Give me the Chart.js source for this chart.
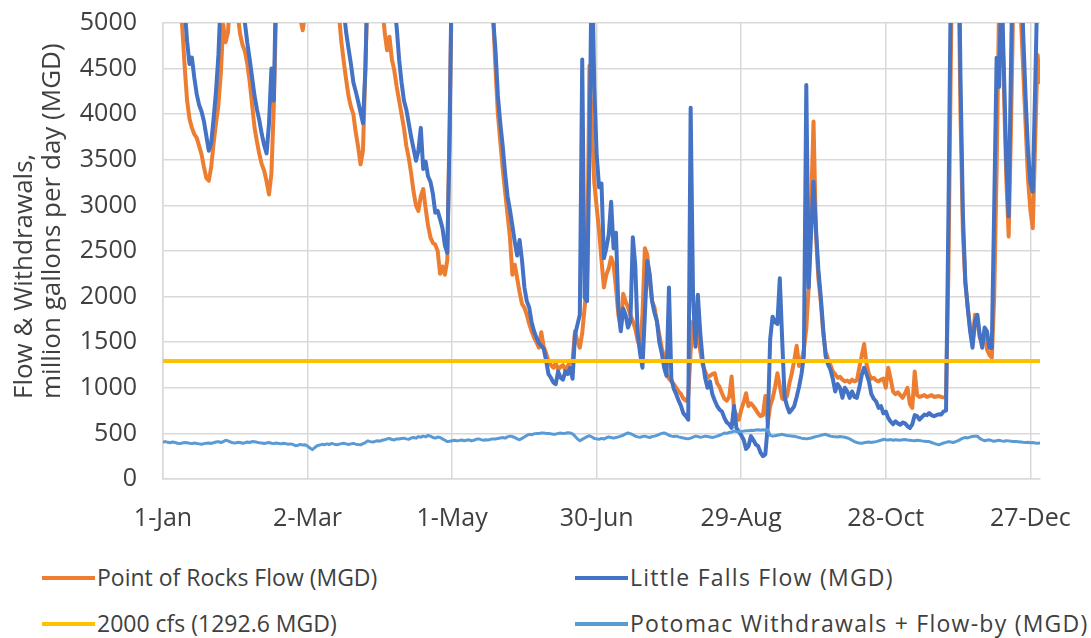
<!DOCTYPE html>
<html><head><meta charset="utf-8">
<script src="https://cdn.jsdelivr.net/npm/chart.js@4"></script>
<style>
html,body{margin:0;padding:0;background:#fff;}
#wrap{position:relative;width:1091px;height:638px;overflow:hidden;}
#c{position:absolute;left:0;top:0;}
.leg{position:absolute;font-family:'Open Sans',sans-serif;font-size:23px;color:#404040;white-space:nowrap;line-height:30px;height:30px;}
.leg.r{letter-spacing:1.25px;}
.leg i{display:inline-block;width:53px;height:4px;vertical-align:middle;margin-right:2px;position:relative;top:-2px;}
.yt{position:absolute;left:0;top:0;font-family:'Open Sans',sans-serif;font-size:26px;color:#404040;white-space:nowrap;line-height:28px;transform-origin:0 0;}
</style></head>
<body>
<div id="wrap">
<canvas id="c" width="1091" height="545"></canvas>
<div class="yt" style="transform:translate(8px,399px) rotate(-90deg);">Flow &amp; Withdrawals,</div>
<div class="yt" style="transform:translate(36px,399px) rotate(-90deg);">million gallons per day (MGD)</div>
<div class="leg" style="left:42px;top:562px;"><i style="background:#ED7D31"></i>Point of Rocks Flow (MGD)</div>
<div class="leg r" style="left:575px;top:562px;"><i style="background:#4472C4"></i>Little Falls Flow (MGD)</div>
<div class="leg" style="left:42px;top:608px;"><i style="background:#FFC000"></i>2000 cfs (1292.6 MGD)</div>
<div class="leg r" style="left:575px;top:608px;"><i style="background:#5B9BD5"></i>Potomac Withdrawals + Flow-by (MGD)</div>
</div>
<script>
const TICK_LABELS = ['1-Jan','2-Mar','1-May','30-Jun','29-Aug','28-Oct','27-Dec'];
const THRESHOLD_MGD = 1292.6;

const POINT_OF_ROCKS = [
9200,8600,8000,7400,6800,6200,5700,5300,4950,4520,
4150,3950,3850,3780,3740,3650,3560,3420,3300,3270,
3420,3680,3900,4100,4450,4980,4790,4900,5400,6000,
5600,5100,4880,4760,4690,4550,4350,4100,3850,3700,
3560,3450,3380,3260,3120,3350,4100,5200,6200,7000,
7400,7200,6800,6300,5900,5600,5300,5050,4920,5100,
5500,6200,7000,7800,8200,7900,7300,6800,6300,5900,
5600,5400,5200,5100,4800,4580,4380,4200,4080,4000,
3800,3640,3450,3600,4500,5500,6500,7200,6800,6000,
5500,5200,4900,4700,4850,4600,4480,4300,4150,4000,
3850,3650,3520,3350,3150,3000,2940,3100,3180,2970,
2780,2650,2590,2570,2500,2250,2330,2240,2400,4000,
5600,7000,8500,9500,10000,9500,9000,8500,8000,7500,
7000,6600,6300,6000,5700,5500,5300,5100,4500,4000,
3700,3400,3150,2900,2650,2240,2350,2200,2050,1920,
1880,1800,1700,1620,1550,1500,1440,1610,1450,1380,
1290,1250,1220,1270,1200,1230,1250,1190,1240,1280,
1300,1620,1510,1440,1600,1880,2170,4530,3900,3250,
2980,2720,2400,2100,2240,2310,2430,2350,2100,1800,
1650,2030,1950,1880,1800,1730,1650,1520,1440,1800,
2530,2460,2170,1950,1880,1730,1580,1440,1330,1150,
1100,1070,1040,1000,960,930,880,860,900,1400,
1730,1600,1580,1400,1250,1180,1110,1130,1150,1160,
1050,1010,940,880,860,900,1125,760,700,650,
760,840,940,800,830,800,760,720,690,700,
910,615,800,880,1000,1160,1020,880,870,910,
1050,1160,1300,1460,1240,1300,1420,1650,2100,3000,
3920,2700,2200,1950,1600,1400,1320,1250,1180,1150,
1110,1120,1090,1070,1080,1060,1090,1070,1080,1220,
1350,1480,1260,1150,1100,1110,1080,1070,1090,1100,
1000,1220,1100,960,930,950,920,890,940,1000,
820,780,1180,920,900,910,920,900,910,920,
900,905,910,900,895,900,2300,4600,6500,7500,
6000,4000,2700,2150,1880,1650,1480,1800,1720,1550,
1500,1600,1420,1360,1330,2000,3400,5200,5400,4300,
3300,2660,3900,5400,6200,6000,5100,4500,3900,3300,
2950,2750,3700,4650,4350
];

const LITTLE_FALLS = [
9800,9200,8600,8000,7400,6800,6300,5900,5500,5150,
4800,4550,4620,4400,4220,4100,4030,3920,3760,3600,
3680,3950,4250,4650,5300,6000,6500,7000,7300,7000,
6500,6000,5600,5300,5000,4780,4600,4400,4200,4050,
3930,3780,3660,3570,3900,4500,4150,5600,6600,7500,
8000,7800,7400,6900,6500,6200,6000,5800,5600,5700,
6000,6700,7500,8300,8800,8500,7900,7300,6800,6400,
6100,5800,5600,5400,5300,5150,4900,4720,4550,4350,
4250,4140,4020,3900,4500,5600,6800,7600,7200,6500,
6000,5700,5500,5400,5300,5250,5200,4950,4600,4350,
4150,4050,3900,3750,3620,3490,3600,3850,3400,3480,
3320,3260,3130,2920,2940,2850,2750,2560,2480,3800,
6000,7500,9000,10000,10500,10000,9500,9000,8500,8000,
7500,7000,6600,6200,5900,5600,5300,5050,4700,4200,
3900,3650,3350,3100,2950,2780,2600,2450,2620,2400,
2100,1950,1880,1720,1620,1550,1490,1460,1430,1300,
1150,1110,1060,1040,1180,1110,1090,1180,1150,1220,
1100,1580,1690,1800,4600,1990,1950,3600,5800,4300,
3550,3200,3240,2420,2530,2680,3040,2530,2700,1880,
1620,1870,1800,1660,1730,2650,2350,1600,1380,1220,
1800,2390,2250,1950,1820,1730,1500,1380,1220,1130,
2100,1100,990,930,860,800,720,690,650,4070,
2000,1450,2020,1600,1300,1110,1000,1070,930,860,
800,760,740,670,620,600,560,800,560,520,
480,430,330,360,470,430,380,360,290,250,
270,580,1530,1780,1720,1700,2200,1520,900,800,
730,760,800,900,1010,1150,1350,4320,2100,2700,
3260,2750,2300,2000,1650,1350,1260,1200,1100,960,
1040,1000,890,1000,960,890,960,900,890,1000,
1140,1220,1150,1070,930,880,850,780,800,720,
740,670,630,600,633,610,596,620,610,580,
560,600,700,690,651,680,706,700,724,700,
688,700,710,706,742,750,2900,5500,7000,8000,
6500,4400,2900,2170,1880,1620,1440,1730,1800,1580,
1440,1660,1620,1440,1437,3000,4620,4300,5500,4500,
3500,2880,4600,6200,6800,6500,5800,4900,4200,3620,
3250,3150,4300,5500,6500
];

const WITHDRAWALS = [
405,410,402,398,405,400,392,388,395,400,
398,392,388,395,390,385,380,388,392,395,
390,398,405,410,400,408,425,418,405,398,
395,402,400,392,398,405,400,410,408,402,
398,395,390,395,400,392,388,395,390,385,
392,388,380,385,378,365,370,380,372,375,
360,340,322,345,365,372,380,375,385,378,
390,382,375,380,388,392,385,378,385,390,
382,378,375,388,400,418,410,405,412,420,
415,425,430,440,445,432,428,440,438,445,
448,440,435,450,455,448,465,458,470,462,
478,470,455,448,460,455,440,425,410,415,
420,425,418,422,428,420,425,430,418,425,
435,440,432,425,430,428,435,440,438,445,
450,455,448,462,470,465,455,440,430,445,
460,478,490,485,495,500,498,505,505,500,
498,495,490,492,500,505,498,502,508,505,
495,470,440,420,435,450,465,475,460,445,
440,435,445,438,452,460,455,448,455,462,
470,480,495,505,498,485,470,462,458,465,
470,462,455,465,470,478,490,500,505,495,
480,470,465,470,462,455,450,445,440,448,
460,470,465,458,462,470,465,460,455,462,
470,480,490,505,500,510,515,525,520,518,
520,525,530,528,535,532,538,540,535,540,
538,540,478,470,475,480,485,490,482,478,
475,470,468,462,455,448,445,440,445,450,
458,465,470,478,485,490,480,470,465,462,
460,465,462,458,450,440,425,410,400,395,
392,398,402,405,400,405,410,418,425,435,
430,428,432,425,430,428,425,430,432,428,
425,422,420,425,422,418,415,412,410,400,
390,382,375,385,395,402,410,405,400,410,
420,435,448,455,450,460,465,470,470,445,
430,420,425,430,420,415,420,425,418,415,
420,418,415,412,410,408,405,402,400,402,
398,400,395,392,395
];

const THRESHOLD = POINT_OF_ROCKS.map(() => THRESHOLD_MGD);
const toXY = arr => arr.map((v, i) => ({x: i, y: v}));
const FONT = "'Open Sans', sans-serif";
const TXT = '#404040';
const GRID = '#D9D9D9';

new Chart(document.getElementById('c'), {
  type: 'line',
  data: {
    datasets: [
      {label: 'Point of Rocks Flow (MGD)', data: toXY(POINT_OF_ROCKS), borderColor: '#ED7D31', borderWidth: 4, order: 4},
      {label: 'Little Falls Flow (MGD)', data: toXY(LITTLE_FALLS), borderColor: '#4472C4', borderWidth: 4, order: 3},
      {label: '2000 cfs (1292.6 MGD)', data: toXY(THRESHOLD), borderColor: '#FFC000', borderWidth: 4, order: 2},
      {label: 'Potomac Withdrawals + Flow-by (MGD)', data: toXY(WITHDRAWALS), borderColor: '#5B9BD5', borderWidth: 3, order: 1}
    ]
  },
  options: {
    responsive: false,
    animation: false,
    devicePixelRatio: 1,
    layout: {padding: {left: 0, right: 51, top: 23, bottom: 0}},
    elements: {point: {radius: 0}, line: {tension: 0, borderJoinStyle: 'round', borderCapStyle: 'round'}},
    plugins: {legend: {display: false}, tooltip: {enabled: false}},
    scales: {
      x: {
        type: 'linear', min: 0, max: 364,
        grid: {color: GRID, lineWidth: 1.5, drawTicks: false},
        border: {color: GRID, width: 1.5},
        ticks: {stepSize: 60, includeBounds: false, autoSkip: false, maxRotation: 0, padding: 25,
          color: TXT, font: {family: FONT, size: 25},
          callback: v => TICK_LABELS[Math.round(v / 60)]},
        afterFit: s => { s.height = 66; s.paddingLeft = 0; s.paddingRight = 0; }
      },
      y: {
        min: 0, max: 5000,
        grid: {color: GRID, lineWidth: 1.5, drawTicks: false},
        border: {color: GRID, width: 1.5},
        ticks: {stepSize: 500, padding: 26, color: TXT, font: {family: FONT, size: 25},
          callback: v => String(v)},
        afterFit: s => { s.width = 163; s.paddingTop = 0; s.paddingBottom = 0; }
      }
    }
  }
});
</script>
</body></html>
